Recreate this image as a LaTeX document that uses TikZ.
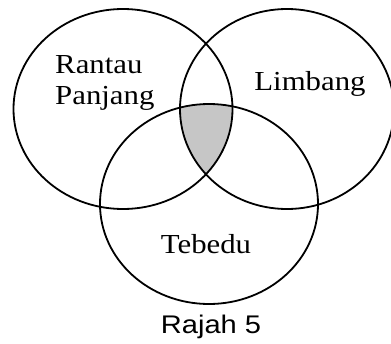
\documentclass[tikz,border=0pt]{standalone}
\usepackage{fontspec}
\setmainfont{Liberation Serif}
\newfontfamily\capfont{Liberation Sans}
\begin{document}
\begin{tikzpicture}[x=1pt,y=1pt,
  venn/.style={line width=1.8pt,draw=black},
  lbl/.style={inner sep=0pt,font=\fontsize{27.5}{31}\selectfont,xscale=1.12,transform shape},
  captxt/.style={inner sep=0pt,font=\capfont\fontsize{25.5}{30}\selectfont,xscale=1.14,transform shape}]
\useasboundingbox (0,0) rectangle (391,-343);
\begin{scope}
  \clip (123,-109) ellipse [x radius=109.5, y radius=100];
  \clip (287,-109) ellipse [x radius=107, y radius=100];
  \fill[gray!45] (209,-204) ellipse [x radius=109, y radius=100];
\end{scope}
\draw[venn] (123,-109) ellipse [x radius=109.5, y radius=100];
\draw[venn] (287,-109) ellipse [x radius=107, y radius=100];
\draw[venn] (209,-204) ellipse [x radius=109, y radius=100];
\node[lbl,anchor=base west] (r) at (55,-73) {Rantau};
\node[lbl,anchor=base west] (p) at (55,-104) {Panjang};
\node[lbl,anchor=base] (l) at (310,-90) {Limbang};
\node[lbl,anchor=base] (t) at (206,-253) {Tebedu};
\node[captxt,anchor=base] (c) at (211,-333) {Rajah 5};
\end{tikzpicture}
\end{document}
